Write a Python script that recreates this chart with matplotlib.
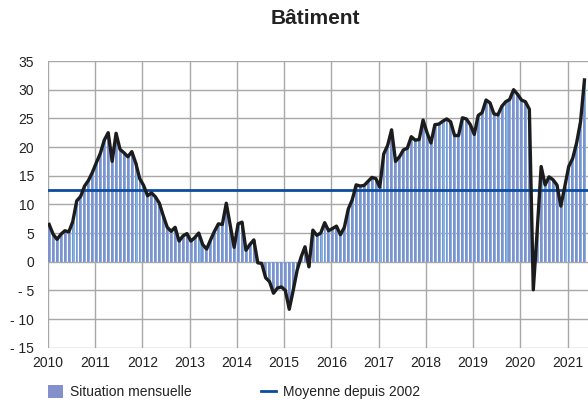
import matplotlib
matplotlib.use("Agg")
import matplotlib.pyplot as plt
import numpy as np
from matplotlib.patches import Patch
from matplotlib.lines import Line2D

plt.rcParams['font.family'] = ['Liberation Sans', 'DejaVu Sans']

# monthly balance of opinion, Jan 2010 -> May 2021
situation = [
    6.5, 4.8, 3.9, 4.8, 5.4, 5.2, 7.0, 10.6, 11.4, 13.2, 14.2, 15.6,        # 2010
    17.3, 18.9, 21.2, 22.5, 17.5, 22.4, 19.6, 19.0, 18.3, 19.2, 17.2, 14.5,  # 2011
    13.3, 11.5, 12.0, 11.3, 10.2, 8.0, 6.0, 5.3, 6.0, 3.6, 4.5, 4.9,         # 2012
    3.6, 4.2, 5.0, 3.0, 2.2, 3.8, 5.3, 6.6, 6.5, 10.2, 6.3, 2.5,             # 2013
    6.6, 6.9, 2.0, 3.0, 3.8, -0.2, -0.3, -2.8, -3.5, -5.5, -4.6, -4.4,       # 2014
    -5.0, -8.3, -5.0, -1.5, 0.8, 2.6, -0.9, 5.5, 4.6, 5.0, 6.8, 5.4,         # 2015
    5.8, 6.2, 4.7, 6.0, 9.2, 10.8, 13.4, 13.2, 13.3, 14.0, 14.7, 14.5,       # 2016
    13.0, 18.8, 20.3, 23.0, 17.5, 18.3, 19.5, 19.8, 21.8, 21.2, 21.3, 24.7,  # 2017
    22.5, 20.7, 23.9, 24.0, 24.5, 24.9, 24.4, 22.0, 22.0, 25.1, 24.9, 23.9,  # 2018
    22.2, 25.5, 26.0, 28.2, 27.7, 25.8, 25.6, 27.1, 27.9, 28.3, 30.0, 29.2,  # 2019
    28.2, 27.9, 26.6, -4.9, 5.5, 16.6, 13.4, 14.8, 14.3, 13.4, 9.7, 13.1,    # 2020
    16.6, 18.0, 20.7, 24.4, 31.7,                                             # 2021
]
moyenne = 12.5
years = list(range(2010, 2022))
yticks = [35, 30, 25, 20, 15, 10, 5, 0, -5, -10, -15]

n = len(situation)
x = np.arange(n)

fig = plt.figure(figsize=(5.88, 4.03), dpi=100)
ax = fig.add_axes([0.0816, 0.1372, 0.9184, 0.7114])

# bars: purple stripe with a light blue edge on its right
ax.bar(x, situation, width=0.75, align='edge', color='#7fb6e6', zorder=2)
ax.bar(x, situation, width=0.48, align='edge', color='#8390cc', zorder=3)

ax.plot(x + 0.3, situation, color='#1c1c1c', lw=2.4, zorder=5,
        solid_joinstyle='round')
ax.axhline(moyenne, color='#0b4c9e', lw=2.0, zorder=4)

ax.set_xlim(0, 137.2)
ax.set_ylim(-15, 35)
ax.set_xticks([12 * k for k in range(len(years))])
ax.set_xticklabels([str(y) for y in years])
ax.set_yticks(yticks)
ax.set_yticklabels([str(v) if v >= 0 else '- ' + str(-v) for v in yticks])
ax.tick_params(length=0, labelsize=10, colors='#222222', pad=6)
ax.tick_params(axis='y', pad=10)
ax.grid(True, color='#a8a8a8', lw=1.0, zorder=0)
ax.set_axisbelow(True)
for s in ax.spines.values():
    s.set_visible(False)

fig.text(0.537, 0.955, 'Bâtiment', ha='center', va='center',
         fontsize=15, fontweight='bold', color='#222222')

handles = [Patch(facecolor='#8390cc', edgecolor='none'),
           Line2D([0], [0], color='#0b4c9e', lw=2.0)]
fig.legend(handles, ['Situation mensuelle', 'Moyenne depuis 2002'],
           loc='center left', bbox_to_anchor=(0.072, 0.027), ncol=2,
           frameon=False, fontsize=10, handlelength=1.1, handleheight=1.0,
           handletextpad=0.5, columnspacing=5.0, borderaxespad=0,
           labelcolor='#222222')

fig.savefig('out.png', dpi=100)
